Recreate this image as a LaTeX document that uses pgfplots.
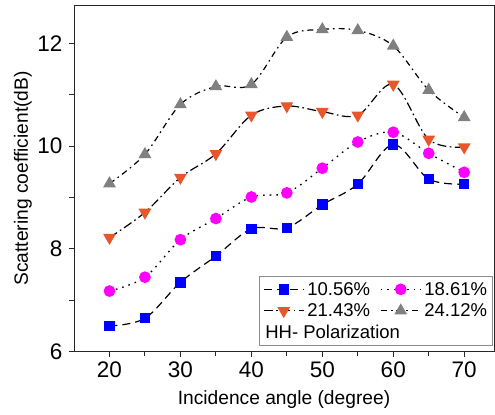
\documentclass[border=0pt]{standalone}
\usepackage{fontspec}
\setmainfont{Liberation Sans}
\usepackage{pgfplots}
\usepackage{pgfplotstable}
\pgfplotsset{compat=1.18}
\definecolor{myred}{RGB}{232,86,44}
\definecolor{mygray}{RGB}{128,128,128}
\definecolor{myblue}{RGB}{0,0,255}
\definecolor{mymag}{RGB}{255,0,255}

\pgfplotstableread{
x y
20 6.50
25 6.65
30 7.35
35 7.86
40 8.39
45 8.41
50 8.86
55 9.26
60 10.03
65 9.36
70 9.26
}\tblA
\pgfplotstableread{
x y
20 7.18
25 7.45
30 8.18
35 8.59
40 9.01
45 9.09
50 9.57
55 10.08
60 10.27
65 9.86
70 9.49
}\tblB
\pgfplotstableread{
x y
20 8.22
25 8.71
30 9.39
35 9.85
40 10.60
45 10.78
50 10.67
55 10.60
60 11.20
65 10.13
70 9.98
}\tblC
\pgfplotstableread{
x y
20 9.27
25 9.84
30 10.81
35 11.16
40 11.20
45 12.12
50 12.27
55 12.25
60 11.95
65 11.09
70 10.56
}\tblD

\begin{document}
\begin{tikzpicture}
\begin{axis}[
  scale only axis,
  width=420bp, height=346.7bp,
  xmin=15, xmax=74.2, ymin=6, ymax=12.745,
  xtick={20,30,...,70}, minor xtick={25,35,...,65},
  ytick={6,8,10,12}, minor ytick={7,9,11},
  tick align=outside, xtick pos=bottom, ytick pos=left,
  major tick length=5bp, minor tick length=4.5bp,
  axis line style={line width=0.9bp, black!85},
  every tick/.style={line width=0.9bp, black!85},
  every minor tick/.style={line width=0.9bp, black!85},
  /pgf/number format/assume math mode=true,
  ticklabel style={font=\fontsize{22.5bp}{24bp}\selectfont},
  xticklabel style={yshift=-2bp},
  yticklabel style={xshift=-3bp},
  xlabel={Incidence angle (degree)},
  ylabel={Scattering coefficient(dB)},
  label style={font=\fontsize{19.2bp}{20bp}\selectfont},
  xlabel style={at={(axis description cs:0.5,-0.1385)}, anchor=center},
  ylabel style={at={(axis description cs:-0.1214,0.5)}, anchor=center},
  legend columns=2,
  legend cell align=left,
  legend style={at={(rel axis cs:1,0)}, anchor=south east, xshift=-1bp, yshift=5.5bp,
    draw=black!45, line width=0.8bp, font=\fontsize{18.5bp}{20bp}\selectfont,
    inner xsep=3.5bp, inner ysep=4bp, row sep=3bp,
    /tikz/every odd column/.append style={column sep=1bp},
    /tikz/every even column/.append style={column sep=8bp}},
  legend image code/.code={\draw[mark repeat=2,mark phase=2,#1] plot coordinates {(0bp,0bp)(20bp,0bp)(40bp,0bp)};},
]
\addplot[black, line width=1.2bp, dash pattern=on 8bp off 5bp, smooth, tension=0.55,
  mark=square*, mark size=4.6bp, mark options={solid, fill=myblue, draw=myblue}] table {\tblA};
\addlegendentry{10.56\%}
\addplot[black, line width=1.3bp, dash pattern=on 1.6bp off 5bp, smooth, tension=0.55,
  mark=*, mark size=5.2bp, mark options={solid, fill=mymag, draw=mymag}] table {\tblB};
\addlegendentry{18.61\%}
\addplot[black, line width=1.2bp, dash pattern=on 9bp off 3.5bp on 1.6bp off 3.5bp, smooth, tension=0.55,
  mark=triangle*, mark size=6.2bp, mark options={solid, fill=myred, draw=myred, rotate=180}] table {\tblC};
\addlegendentry{21.43\%}
\addplot[black, line width=1.2bp, dash pattern=on 6bp off 4bp on 1.6bp off 4bp, smooth, tension=0.55,
  mark=triangle*, mark size=6.2bp, mark options={solid, fill=mygray, draw=mygray}] table {\tblD};
\addlegendentry{24.12\%}
\addlegendimage{empty legend}
\addlegendentry{\makebox[0pt][l]{\hspace*{-42bp}HH- Polarization}}
\end{axis}
\pgfresetboundingbox
\path[use as bounding box] ([shift={(-74bp,-62.3bp)}]current axis.south west) rectangle ([shift={(1bp,5bp)}]current axis.north east);
\end{tikzpicture}
\end{document}
